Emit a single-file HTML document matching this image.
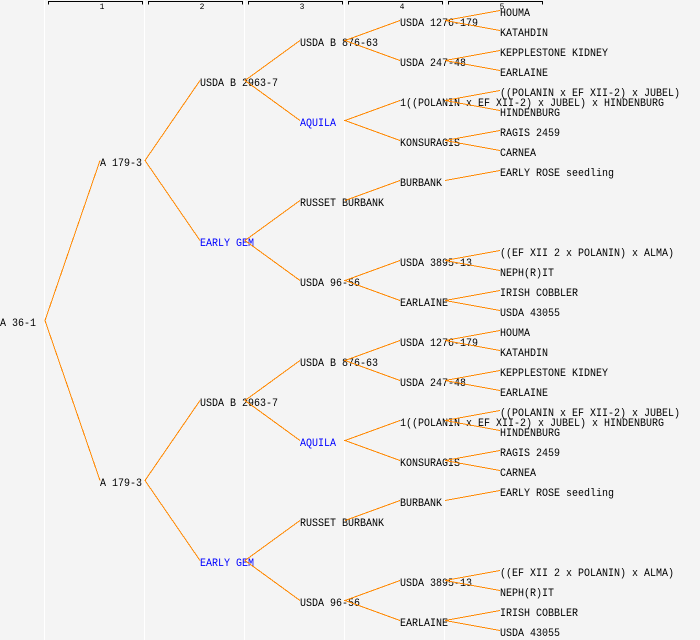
<!DOCTYPE html>
<html><head><meta charset="utf-8"><style>
html,body{margin:0;padding:0;background:#f4f4f4;}
svg{display:block;}
text{font-family:"Liberation Mono",monospace;font-size:11px;fill:#000;}
.b{fill:#0000ff;}
.h{font-size:8px;text-anchor:middle;}
</style></head><body>
<svg width="700" height="640" viewBox="0 0 700 640" xmlns="http://www.w3.org/2000/svg">
<rect x="0" y="0" width="700" height="640" fill="#f4f4f4"/>
<g fill="#ffffff">
<rect x="44" y="0" width="1" height="640"/>
<rect x="144" y="0" width="1" height="640"/>
<rect x="244" y="0" width="1" height="640"/>
<rect x="344" y="0" width="1" height="640"/>
<rect x="444" y="0" width="1" height="640"/>
</g>
<g stroke="#000" stroke-width="1" fill="none" shape-rendering="crispEdges">
<path d="M48.5 4.5V1.5H142.5V4.5"/>
<path d="M148.5 4.5V1.5H242.5V4.5"/>
<path d="M248.5 4.5V1.5H342.5V4.5"/>
<path d="M348.5 4.5V1.5H442.5V4.5"/>
<path d="M448.5 4.5V1.5H542.5V4.5"/>
</g>
<text class="h" x="102" y="9">1</text>
<text class="h" x="202" y="9">2</text>
<text class="h" x="302" y="9">3</text>
<text class="h" x="402" y="9">4</text>
<text class="h" x="502" y="9">5</text>

<!-- text nodes -->
<text x="0" y="326" textLength="36" lengthAdjust="spacingAndGlyphs">A 36-1</text>
<text x="100" y="166" textLength="42" lengthAdjust="spacingAndGlyphs">A 179-3</text>
<text x="100" y="486" textLength="42" lengthAdjust="spacingAndGlyphs">A 179-3</text>

<text x="200" y="86" textLength="78" lengthAdjust="spacingAndGlyphs">USDA B 2963-7</text>
<text x="200" y="246" class="b" textLength="54" lengthAdjust="spacingAndGlyphs">EARLY GEM</text>
<text x="200" y="406" textLength="78" lengthAdjust="spacingAndGlyphs">USDA B 2963-7</text>
<text x="200" y="566" class="b" textLength="54" lengthAdjust="spacingAndGlyphs">EARLY GEM</text>

<text x="300" y="46" textLength="78" lengthAdjust="spacingAndGlyphs">USDA B 876-63</text>
<text x="300" y="126" class="b" textLength="36" lengthAdjust="spacingAndGlyphs">AQUILA</text>
<text x="300" y="206" textLength="84" lengthAdjust="spacingAndGlyphs">RUSSET BURBANK</text>
<text x="300" y="286" textLength="60" lengthAdjust="spacingAndGlyphs">USDA 96-56</text>
<text x="300" y="366" textLength="78" lengthAdjust="spacingAndGlyphs">USDA B 876-63</text>
<text x="300" y="446" class="b" textLength="36" lengthAdjust="spacingAndGlyphs">AQUILA</text>
<text x="300" y="526" textLength="84" lengthAdjust="spacingAndGlyphs">RUSSET BURBANK</text>
<text x="300" y="606" textLength="60" lengthAdjust="spacingAndGlyphs">USDA 96-56</text>

<text x="400" y="26" textLength="78" lengthAdjust="spacingAndGlyphs">USDA 1276-179</text>
<text x="400" y="66" textLength="66" lengthAdjust="spacingAndGlyphs">USDA 247-48</text>
<text x="400" y="106" textLength="264" lengthAdjust="spacingAndGlyphs">1((POLANIN x EF XII-2) x JUBEL) x HINDENBURG</text>
<text x="400" y="146" textLength="60" lengthAdjust="spacingAndGlyphs">KONSURAGIS</text>
<text x="400" y="186" textLength="42" lengthAdjust="spacingAndGlyphs">BURBANK</text>
<text x="400" y="266" textLength="72" lengthAdjust="spacingAndGlyphs">USDA 3895-13</text>
<text x="400" y="306" textLength="48" lengthAdjust="spacingAndGlyphs">EARLAINE</text>
<text x="400" y="346" textLength="78" lengthAdjust="spacingAndGlyphs">USDA 1276-179</text>
<text x="400" y="386" textLength="66" lengthAdjust="spacingAndGlyphs">USDA 247-48</text>
<text x="400" y="426" textLength="264" lengthAdjust="spacingAndGlyphs">1((POLANIN x EF XII-2) x JUBEL) x HINDENBURG</text>
<text x="400" y="466" textLength="60" lengthAdjust="spacingAndGlyphs">KONSURAGIS</text>
<text x="400" y="506" textLength="42" lengthAdjust="spacingAndGlyphs">BURBANK</text>
<text x="400" y="586" textLength="72" lengthAdjust="spacingAndGlyphs">USDA 3895-13</text>
<text x="400" y="626" textLength="48" lengthAdjust="spacingAndGlyphs">EARLAINE</text>

<text x="500" y="16" textLength="30" lengthAdjust="spacingAndGlyphs">HOUMA</text>
<text x="500" y="36" textLength="48" lengthAdjust="spacingAndGlyphs">KATAHDIN</text>
<text x="500" y="56" textLength="108" lengthAdjust="spacingAndGlyphs">KEPPLESTONE KIDNEY</text>
<text x="500" y="76" textLength="48" lengthAdjust="spacingAndGlyphs">EARLAINE</text>
<text x="500" y="96" textLength="180" lengthAdjust="spacingAndGlyphs">((POLANIN x EF XII-2) x JUBEL)</text>
<text x="500" y="116" textLength="60" lengthAdjust="spacingAndGlyphs">HINDENBURG</text>
<text x="500" y="136" textLength="60" lengthAdjust="spacingAndGlyphs">RAGIS 2459</text>
<text x="500" y="156" textLength="36" lengthAdjust="spacingAndGlyphs">CARNEA</text>
<text x="500" y="176" textLength="114" lengthAdjust="spacingAndGlyphs">EARLY ROSE seedling</text>
<text x="500" y="256" textLength="174" lengthAdjust="spacingAndGlyphs">((EF XII 2 x POLANIN) x ALMA)</text>
<text x="500" y="276" textLength="54" lengthAdjust="spacingAndGlyphs">NEPH(R)IT</text>
<text x="500" y="296" textLength="78" lengthAdjust="spacingAndGlyphs">IRISH COBBLER</text>
<text x="500" y="316" textLength="60" lengthAdjust="spacingAndGlyphs">USDA 43055</text>
<text x="500" y="336" textLength="30" lengthAdjust="spacingAndGlyphs">HOUMA</text>
<text x="500" y="356" textLength="48" lengthAdjust="spacingAndGlyphs">KATAHDIN</text>
<text x="500" y="376" textLength="108" lengthAdjust="spacingAndGlyphs">KEPPLESTONE KIDNEY</text>
<text x="500" y="396" textLength="48" lengthAdjust="spacingAndGlyphs">EARLAINE</text>
<text x="500" y="416" textLength="180" lengthAdjust="spacingAndGlyphs">((POLANIN x EF XII-2) x JUBEL)</text>
<text x="500" y="436" textLength="60" lengthAdjust="spacingAndGlyphs">HINDENBURG</text>
<text x="500" y="456" textLength="60" lengthAdjust="spacingAndGlyphs">RAGIS 2459</text>
<text x="500" y="476" textLength="36" lengthAdjust="spacingAndGlyphs">CARNEA</text>
<text x="500" y="496" textLength="114" lengthAdjust="spacingAndGlyphs">EARLY ROSE seedling</text>
<text x="500" y="576" textLength="174" lengthAdjust="spacingAndGlyphs">((EF XII 2 x POLANIN) x ALMA)</text>
<text x="500" y="596" textLength="54" lengthAdjust="spacingAndGlyphs">NEPH(R)IT</text>
<text x="500" y="616" textLength="78" lengthAdjust="spacingAndGlyphs">IRISH COBBLER</text>
<text x="500" y="636" textLength="60" lengthAdjust="spacingAndGlyphs">USDA 43055</text>

<!-- connectors -->
<g stroke="#ff8800" stroke-width="1" fill="none" shape-rendering="crispEdges">
<path d="M100 160.5L45 320.5L100 480.5"/>
<path d="M200 80.5L145 160.5L200 240.5"/>
<path d="M200 400.5L145 480.5L200 560.5"/>

<path d="M300 40.5L245 80.5L300 120.5"/>
<path d="M300 200.5L245 240.5L300 280.5"/>
<path d="M300 360.5L245 400.5L300 440.5"/>
<path d="M300 520.5L245 560.5L300 600.5"/>

<path d="M400 20.5L345 40.5L400 60.5"/>
<path d="M400 100.5L345 120.5L400 140.5"/>
<path d="M345 200.5L400 180.5"/>
<path d="M400 260.5L345 280.5L400 300.5"/>
<path d="M400 340.5L345 360.5L400 380.5"/>
<path d="M400 420.5L345 440.5L400 460.5"/>
<path d="M345 520.5L400 500.5"/>
<path d="M400 580.5L345 600.5L400 620.5"/>

<path d="M500 10.5L445 20.5L500 30.5"/>
<path d="M500 50.5L445 60.5L500 70.5"/>
<path d="M500 90.5L445 100.5L500 110.5"/>
<path d="M500 130.5L445 140.5L500 150.5"/>
<path d="M445 180.5L500 170.5"/>
<path d="M500 250.5L445 260.5L500 270.5"/>
<path d="M500 290.5L445 300.5L500 310.5"/>
<path d="M500 330.5L445 340.5L500 350.5"/>
<path d="M500 370.5L445 380.5L500 390.5"/>
<path d="M500 410.5L445 420.5L500 430.5"/>
<path d="M500 450.5L445 460.5L500 470.5"/>
<path d="M445 500.5L500 490.5"/>
<path d="M500 570.5L445 580.5L500 590.5"/>
<path d="M500 610.5L445 620.5L500 630.5"/>
</g>
</svg>
</body></html>
